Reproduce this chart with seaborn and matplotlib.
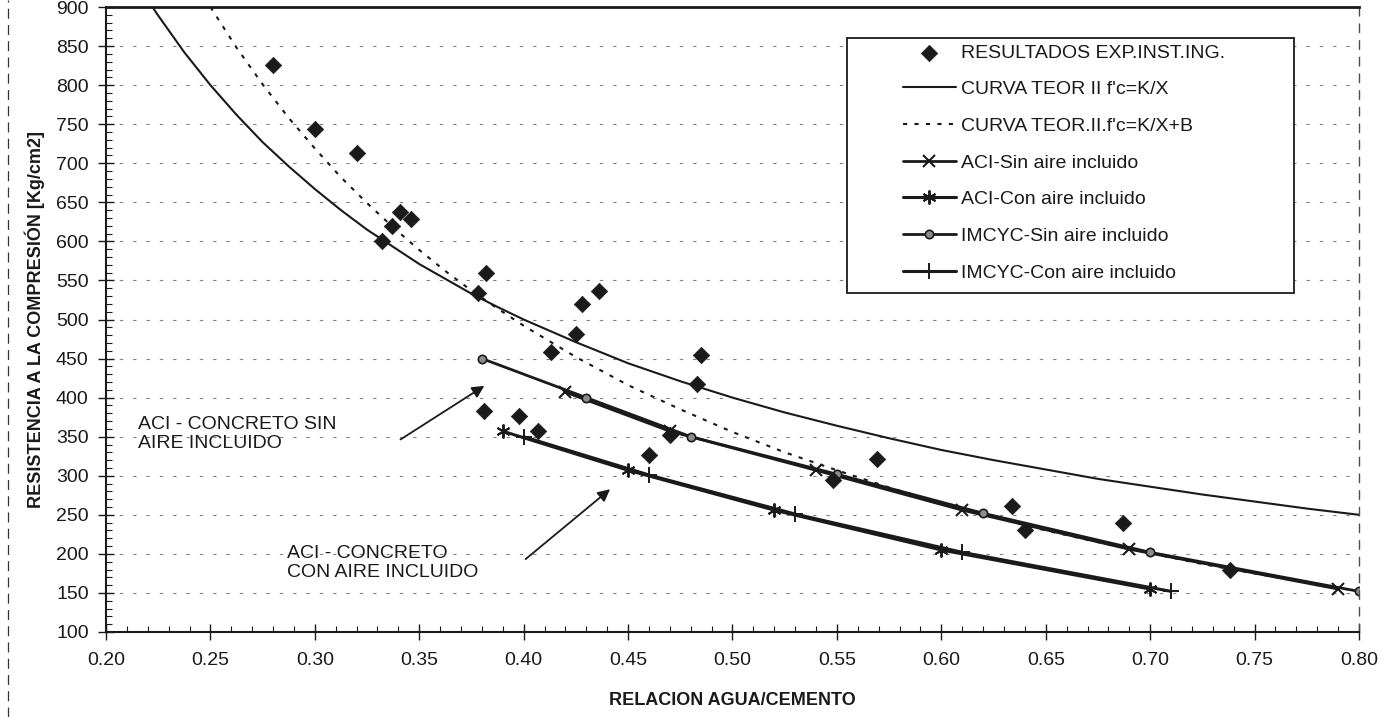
import numpy as np
import pandas as pd
import matplotlib
matplotlib.use("Agg")
import matplotlib.pyplot as plt
import seaborn as sns
from matplotlib.ticker import MultipleLocator, FormatStrFormatter
from matplotlib.patches import Rectangle
from matplotlib.lines import Line2D

# ---------------- data ----------------
exp_x = [0.280, 0.300, 0.320, 0.332, 0.337, 0.341, 0.346, 0.378, 0.382, 0.381,
         0.398, 0.407, 0.413, 0.425, 0.428, 0.436, 0.460, 0.470, 0.483, 0.485,
         0.548, 0.569, 0.634, 0.640, 0.687, 0.738]
exp_y = [826, 744, 713, 601, 620, 637, 629, 534, 560, 383,
         376, 357, 458, 482, 520, 536, 327, 352, 417, 455,
         294, 322, 261, 230, 240, 180]

kx_x = [0.22, 0.225, 0.2375, 0.25, 0.2625, 0.275, 0.2875, 0.30, 0.3125, 0.325, 0.3375,
        0.35, 0.3625, 0.375, 0.3875, 0.40, 0.425, 0.45, 0.475,
        0.50, 0.525, 0.55, 0.575, 0.60, 0.625, 0.65, 0.675, 0.70, 0.725, 0.75, 0.775, 0.80]
kx_y = [909, 889, 842, 800, 762, 727, 696, 667, 640, 615, 593,
        571, 552, 533, 516, 500, 471, 444, 421,
        400, 381, 364, 348, 333, 320, 308, 296, 286, 276, 267, 258, 250]

kb_x = [0.25, 0.2625, 0.275, 0.2875, 0.30, 0.3125, 0.325, 0.3375, 0.35, 0.3625, 0.375,
        0.3875, 0.40, 0.425, 0.45, 0.475, 0.50, 0.525,
        0.55, 0.575, 0.60, 0.625, 0.65, 0.675, 0.70, 0.725, 0.75, 0.775, 0.80]
kb_y = [900, 848, 801, 758, 719, 682, 649, 618, 589, 562, 537,
        514, 492, 452, 416, 385, 356, 330,
        307, 285, 265, 247, 230, 215, 201, 187, 175, 163, 152]

aci_sin_x = [0.42, 0.47, 0.54, 0.61, 0.69, 0.79]
aci_sin_y = [407, 357, 307, 256, 206, 155]

aci_con_x = [0.39, 0.45, 0.52, 0.60, 0.70]
aci_con_y = [357, 307, 256, 205, 155]

imc_sin_x = [0.38, 0.43, 0.48, 0.55, 0.62, 0.70, 0.80]
imc_sin_y = [450, 400, 350, 302, 252, 202, 152]

imc_con_x = [0.40, 0.46, 0.53, 0.61, 0.71]
imc_con_y = [350, 301, 251, 202, 152]

x_ticks = [0.20, 0.25, 0.30, 0.35, 0.40, 0.45, 0.50, 0.55, 0.60, 0.65, 0.70, 0.75, 0.80]
y_ticks = [100, 150, 200, 250, 300, 350, 400, 450, 500, 550, 600, 650, 700, 750, 800, 850, 900]

labels = ["RESULTADOS EXP.INST.ING.",
          "CURVA TEOR II f'c=K/X",
          "CURVA TEOR.II.f'c=K/X+B",
          "ACI-Sin aire incluido",
          "ACI-Con aire incluido",
          "IMCYC-Sin aire incluido",
          "IMCYC-Con aire incluido"]

# ---------------- figure ----------------
sns.set_theme(style="white")
plt.rcParams['font.family'] = ['Liberation Sans', 'DejaVu Sans']

W, H = 1389, 717
fig = plt.figure(figsize=(W / 100, H / 100), dpi=100)
ax = fig.add_axes([106 / W, 1 - 632 / H, 1253 / W, 625 / H])

ax.set_xlim(0.20, 0.80)
ax.set_ylim(100, 900)

ax.yaxis.grid(True, which='major', color='0.5', linestyle=(0, (3, 9)), linewidth=0.8)
ax.set_axisbelow(True)

sns.lineplot(x=kx_x, y=kx_y, ax=ax, color='k', linewidth=1.5, label=labels[1],
             estimator=None, sort=False)
sns.lineplot(x=kb_x, y=kb_y, ax=ax, color='k', linewidth=1.5, linestyle=(0, (2, 3.5)),
             label=labels[2], estimator=None, sort=False)
sns.lineplot(x=aci_sin_x, y=aci_sin_y, ax=ax, color='k', linewidth=2.0, marker='x',
             markersize=8, markeredgewidth=1.5, markeredgecolor='k',
             label=labels[3], estimator=None, sort=False)
sns.lineplot(x=aci_con_x, y=aci_con_y, ax=ax, color='k', linewidth=2.2, marker=(6, 2, 0),
             markersize=10, markeredgewidth=1.4, markeredgecolor='k',
             label=labels[4], estimator=None, sort=False)
sns.lineplot(x=imc_sin_x, y=imc_sin_y, ax=ax, color='k', linewidth=2.0, marker='o',
             markersize=6, markerfacecolor='0.55', markeredgecolor='k', markeredgewidth=1.2,
             label=labels[5], estimator=None, sort=False)
sns.lineplot(x=imc_con_x, y=imc_con_y, ax=ax, color='k', linewidth=2.2, marker='+',
             markersize=11, markeredgewidth=1.4, markeredgecolor='k',
             label=labels[6], estimator=None, sort=False)
sns.scatterplot(x=exp_x, y=exp_y, ax=ax, marker='D', s=70, color='k', edgecolor='k',
                linewidth=0.5, label=labels[0], zorder=6)

# ---------------- axes styling ----------------
ax.set_xticks(x_ticks)
ax.set_yticks(y_ticks)
ax.xaxis.set_major_formatter(FormatStrFormatter('%.2f'))
ax.yaxis.set_major_formatter(FormatStrFormatter('%d'))
ax.xaxis.set_minor_locator(MultipleLocator(0.01))
ax.yaxis.set_minor_locator(MultipleLocator(10))
ax.tick_params(axis='both', which='major', direction='inout', length=11, width=1.0,
               colors='k', labelsize=14, left=True, bottom=True)
ax.tick_params(axis='both', which='minor', direction='in', length=4, width=0.8,
               colors='k', left=True, bottom=True)
ax.tick_params(axis='x', which='major', pad=9)
ax.tick_params(axis='y', which='major', pad=7)

for side in ['left', 'bottom']:
    ax.spines[side].set_color('k')
    ax.spines[side].set_linewidth(1.5)
ax.spines['top'].set_color('k')
ax.spines['top'].set_linewidth(2.0)
ax.spines['right'].set_color('0.3')
ax.spines['right'].set_linewidth(1.0)
ax.spines['right'].set_linestyle((0, (6, 6)))

ax.set_xlabel("RELACION AGUA/CEMENTO", fontsize=13, fontweight='bold', color='k')
ax.set_ylabel("RESISTENCIA A LA COMPRESIÓN [Kg/cm2]", fontsize=13, fontweight='bold', color='k')
ax.xaxis.set_label_coords(0.5, -0.096)
ax.yaxis.set_label_coords(-0.0487, 0.5)

# ---------------- annotations ----------------
ax.text(0.2155, 354, "ACI - CONCRETO SIN\nAIRE INCLUIDO", fontsize=14, color='k',
        ha='left', va='center', linespacing=1.15)
ax.text(0.2869, 188, "ACI - CONCRETO\nCON AIRE INCLUIDO", fontsize=14, color='k',
        ha='left', va='center', linespacing=1.15)
ax.annotate("", xy=(0.3823, 417), xytext=(0.3399, 344.5),
            arrowprops=dict(arrowstyle='-|>', color='k', lw=1.3, mutation_scale=18))
ax.annotate("", xy=(0.4424, 285), xytext=(0.3999, 191),
            arrowprops=dict(arrowstyle='-|>', color='k', lw=1.3, mutation_scale=18))

# ---------------- legend ----------------
handles, labs = ax.get_legend_handles_labels()
hmap = dict(zip(labs, handles))
frame = Rectangle((0.591, 0.5424), 0.357, 0.4076, transform=ax.transAxes,
                  facecolor='white', edgecolor='k', linewidth=1.3, zorder=7)
ax.add_patch(frame)
leg = ax.legend([hmap[l] for l in labels], labels, loc='upper left',
                bbox_to_anchor=((903 - 106) / 1253, (632 - 44) / 625),
                frameon=False, fontsize=14, borderpad=0, borderaxespad=0,
                handlelength=2.7, handletextpad=0.3, labelspacing=0.98)
leg.set_zorder(8)
for t in leg.get_texts():
    t.set_color('k')

# outer chart border (left side, dashed as in the scan)
fig.add_artist(Line2D([8 / W, 8 / W], [0, 1], transform=fig.transFigure,
                      color='0.2', linewidth=0.9, linestyle=(0, (8, 5))))

fig.savefig("out.png", dpi=100, facecolor='white')
